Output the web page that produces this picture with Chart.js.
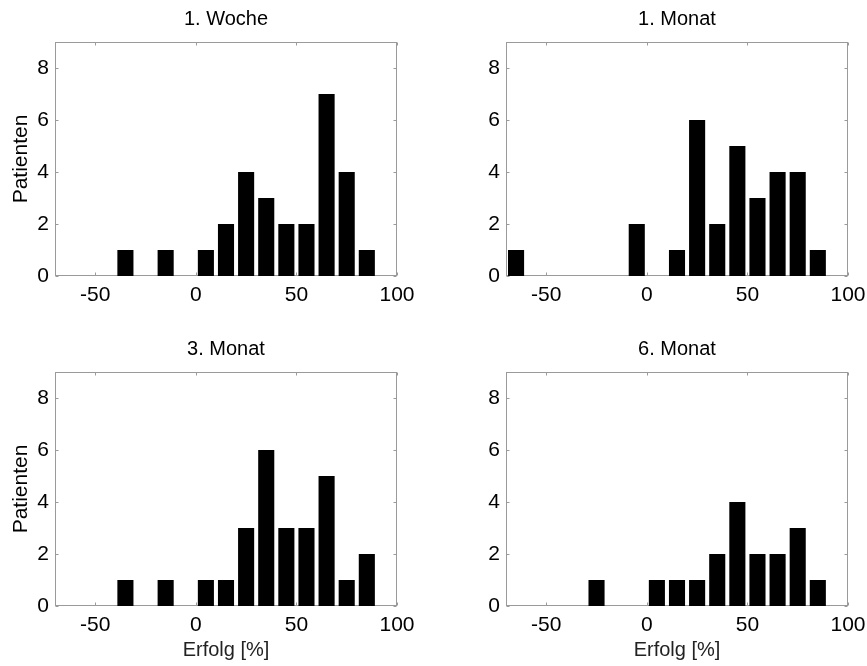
<!DOCTYPE html>
<html>
<head>
<meta charset="utf-8">
<script src="https://cdn.jsdelivr.net/npm/chart.js@4"></script>
<style>
    body {margin: 0; background: #fff; width: 867px; height: 666px; position: relative; overflow: hidden;}
    canvas {position: absolute;}
</style>
</head>
<body>
<canvas id="chart-woche1" width="427" height="330" style="left:0;top:0"></canvas>
<canvas id="chart-monat1" width="427" height="330" style="left:451px;top:0"></canvas>
<canvas id="chart-monat3" width="427" height="336" style="left:0;top:330px"></canvas>
<canvas id="chart-monat6" width="427" height="336" style="left:451px;top:330px"></canvas>
<script>
// bin centres of the histogram (Erfolg in %)
const binCenters = [-65, -55, -45, -35, -25, -15, -5, 5, 15, 25, 35, 45, 55, 65, 75, 85];

// number of patients per bin
const woche1 = [0, 0, 0, 1, 0, 1, 0, 1, 2, 4, 3, 2, 2, 7, 4, 1];
const monat1 = [1, 0, 0, 0, 0, 0, 2, 0, 1, 6, 2, 5, 3, 4, 4, 1];
const monat3 = [0, 0, 0, 1, 0, 1, 0, 1, 1, 3, 6, 3, 3, 5, 1, 2];
const monat6 = [0, 0, 0, 0, 1, 0, 0, 1, 1, 1, 2, 4, 2, 2, 3, 1];

const xTicks = [-50, 0, 50, 100];
const yTicks = [0, 2, 4, 6, 8];

const FONT = "'Liberation Sans', Arial, sans-serif";
Chart.defaults.font.family = FONT;
Chart.defaults.color = '#000';

// matlab-like box with inward ticks on all four sides
const framePlugin = {
    id: 'frame',
    beforeDatasetsDraw(chart) {
        const ctx = chart.ctx;
        const a = chart.chartArea;
        const xs = chart.scales.x;
        const ys = chart.scales.y;
        const left = a.left + 0.5, right = a.right - 0.5;
        const top = a.top + 0.5, bottom = a.bottom - 0.5;

        ctx.save();
        ctx.strokeStyle = '#9a9a9a';
        ctx.lineWidth = 1;
        ctx.strokeRect(left, top, right - left, bottom - top);

        ctx.beginPath();
        xTicks.forEach(v => {
            const px = Math.round(xs.getPixelForValue(v)) + 0.5;
            ctx.moveTo(px, bottom);
            ctx.lineTo(px, bottom - 3);
            ctx.moveTo(px, top);
            ctx.lineTo(px, top + 3);
        });
        yTicks.forEach(v => {
            const py = Math.round(ys.getPixelForValue(v)) + 0.5;
            ctx.moveTo(left, py);
            ctx.lineTo(left + 3, py);
            ctx.moveTo(right, py);
            ctx.lineTo(right - 3, py);
        });
        ctx.stroke();
        ctx.restore();
    }
};

function makeChart(id, title, counts, showXTitle, showYTitle, xHeight) {
    return new Chart(document.getElementById(id), {
        type: 'bar',
        data: {
            datasets: [{
                data: binCenters.map((c, i) => ({x: c, y: counts[i]})),
                backgroundColor: '#000',
                borderWidth: 0,
                barPercentage: 0.8,
                categoryPercentage: 1
            }]
        },
        options: {
            responsive: false,
            animation: false,
            layout: {padding: {left: 0, right: 30, top: 0, bottom: 0}},
            plugins: {
                legend: {display: false},
                tooltip: {enabled: false},
                title: {
                    display: true,
                    text: title,
                    fullSize: false,
                    color: '#000',
                    font: {size: 20, weight: 'normal'},
                    padding: {top: 7, bottom: 11}
                }
            },
            scales: {
                x: {
                    type: 'linear',
                    min: -70,
                    max: 100,
                    offset: false,
                    afterBuildTicks: s => { s.ticks = xTicks.map(v => ({value: v})); },
                    afterFit: s => { s.height = xHeight; },
                    grid: {display: false, drawTicks: false},
                    border: {display: false},
                    ticks: {font: {size: 21}, color: '#000', padding: 7, maxRotation: 0, autoSkip: false},
                    title: {
                        display: showXTitle,
                        text: 'Erfolg [%]',
                        color: '#222',
                        font: {size: 20},
                        padding: {top: 0, bottom: 4}
                    }
                },
                y: {
                    min: 0,
                    max: 9,
                    afterBuildTicks: s => { s.ticks = yTicks.map(v => ({value: v})); },
                    afterFit: s => { s.width = 55; },
                    grid: {display: false, drawTicks: false},
                    border: {display: false},
                    ticks: {font: {size: 21}, color: '#000', padding: 6},
                    title: {
                        display: showYTitle,
                        text: 'Patienten',
                        color: '#000',
                        font: {size: 21},
                        padding: {top: 9, bottom: 0}
                    }
                }
            }
        },
        plugins: [framePlugin]
    });
}

makeChart('chart-woche1', '1. Woche', woche1, false, true, 54);
makeChart('chart-monat1', '1. Monat', monat1, false, false, 54);
makeChart('chart-monat3', '3. Monat', monat3, true, true, 60);
makeChart('chart-monat6', '6. Monat', monat6, true, false, 60);
</script>
</body>
</html>
